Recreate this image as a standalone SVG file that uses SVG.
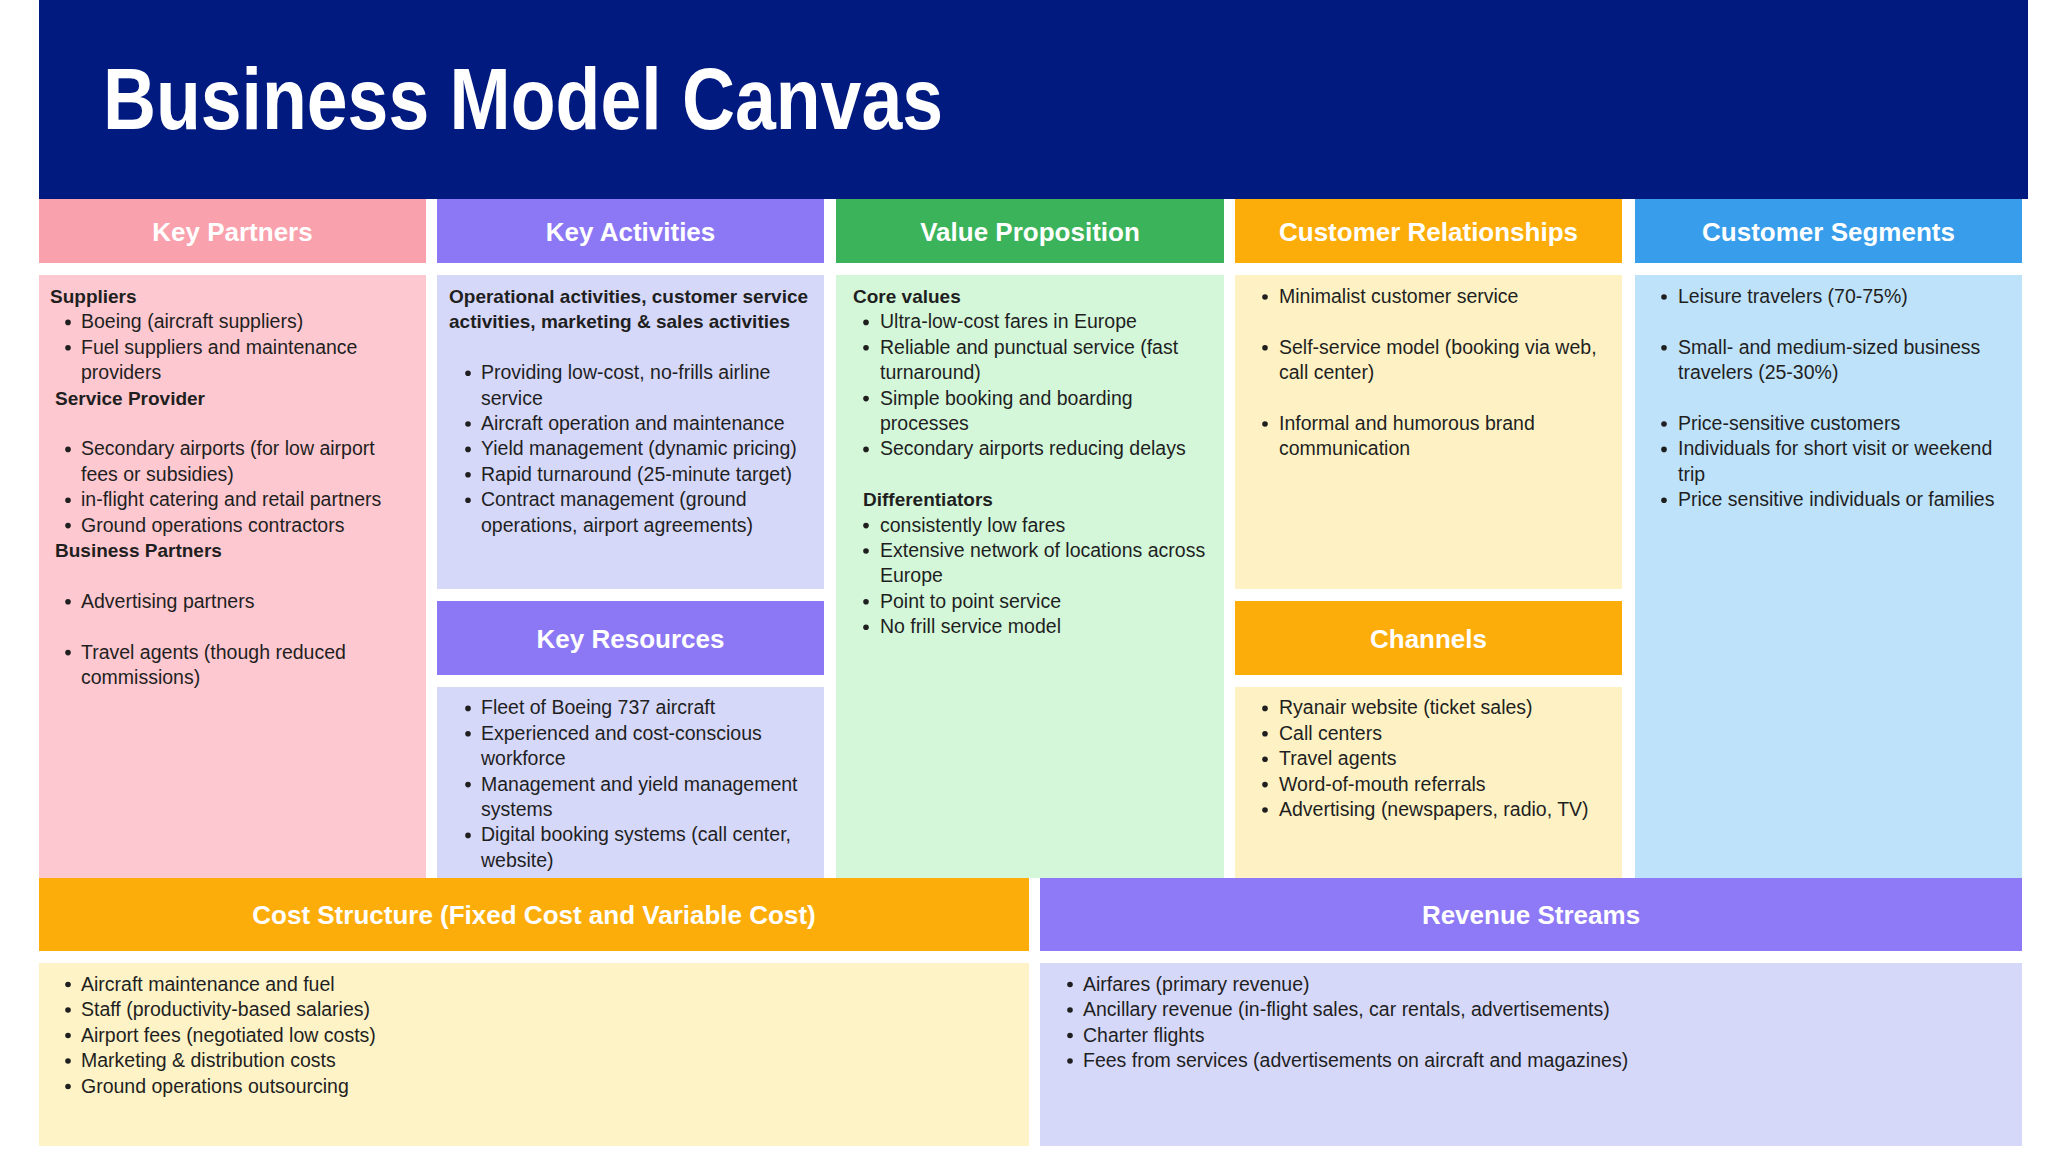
<svg xmlns="http://www.w3.org/2000/svg" width="2048" height="1152" viewBox="0 0 2048 1152">
<style>
.ttl{font-family:"Liberation Sans",Arial,sans-serif;font-weight:700;font-size:88px;fill:#ffffff}
.hd{font-family:"Liberation Sans",Arial,sans-serif;font-weight:700;font-size:26px;fill:#ffffff;text-anchor:middle}
.tx{font-family:"Liberation Sans",Arial,sans-serif;font-size:19.5px;fill:#1f1f1f}
.b{font-weight:700;font-size:19px}
.dot{fill:#1f1f1f}
</style>
<rect x="0" y="0" width="2048" height="1152" fill="#ffffff"/>
<g id="title">
<rect x="39" y="0" width="1989" height="199" fill="#011a80"/>
<text class="ttl" x="103" y="129" textLength="840" lengthAdjust="spacingAndGlyphs">Business Model Canvas</text>
</g>
<g id="connectors"/>
<g id="key-partners">
<rect x="39" y="199" width="387" height="64" fill="#f9a1ac"/>
<text class="hd" x="232.5" y="240.5">Key Partners</text>
<rect x="39" y="275" width="387" height="603" fill="#fec8d0"/>
<text class="tx b" x="50" y="303">Suppliers</text>
<circle class="dot" cx="68" cy="322.4" r="2.8"/><text class="tx" x="81" y="328.4">Boeing (aircraft suppliers)</text>
<circle class="dot" cx="68" cy="347.8" r="2.8"/><text class="tx" x="81" y="353.8">Fuel suppliers and maintenance</text>
<text class="tx" x="81" y="379.2">providers</text>
<text class="tx b" x="55" y="404.6">Service Provider</text>
<circle class="dot" cx="68" cy="449.4" r="2.8"/><text class="tx" x="81" y="455.4">Secondary airports (for low airport</text>
<text class="tx" x="81" y="480.8">fees or subsidies)</text>
<circle class="dot" cx="68" cy="500.2" r="2.8"/><text class="tx" x="81" y="506.2">in-flight catering and retail partners</text>
<circle class="dot" cx="68" cy="525.6" r="2.8"/><text class="tx" x="81" y="531.6">Ground operations contractors</text>
<text class="tx b" x="55" y="557">Business Partners</text>
<circle class="dot" cx="68" cy="601.8" r="2.8"/><text class="tx" x="81" y="607.8">Advertising partners</text>
<circle class="dot" cx="68" cy="652.6" r="2.8"/><text class="tx" x="81" y="658.6">Travel agents (though reduced</text>
<text class="tx" x="81" y="684">commissions)</text>
</g>
<g id="key-activities">
<rect x="437" y="199" width="387" height="64" fill="#8c78f5"/>
<text class="hd" x="630.5" y="240.5">Key Activities</text>
<rect x="437" y="275" width="387" height="314" fill="#d6d8fa"/>
<text class="tx b" x="449" y="303">Operational activities, customer service</text>
<text class="tx b" x="449" y="328.4">activities, marketing &amp; sales activities</text>
<circle class="dot" cx="468" cy="373.2" r="2.8"/><text class="tx" x="481" y="379.2">Providing low-cost, no-frills airline</text>
<text class="tx" x="481" y="404.6">service</text>
<circle class="dot" cx="468" cy="424" r="2.8"/><text class="tx" x="481" y="430">Aircraft operation and maintenance</text>
<circle class="dot" cx="468" cy="449.4" r="2.8"/><text class="tx" x="481" y="455.4">Yield management (dynamic pricing)</text>
<circle class="dot" cx="468" cy="474.8" r="2.8"/><text class="tx" x="481" y="480.8">Rapid turnaround (25-minute target)</text>
<circle class="dot" cx="468" cy="500.2" r="2.8"/><text class="tx" x="481" y="506.2">Contract management (ground</text>
<text class="tx" x="481" y="531.6">operations, airport agreements)</text>
</g>
<g id="key-resources">
<rect x="437" y="601" width="387" height="74" fill="#8c78f5"/>
<text class="hd" x="630.5" y="647.5">Key Resources</text>
<rect x="437" y="687" width="387" height="191" fill="#d6d8fa"/>
<circle class="dot" cx="468" cy="708.4" r="2.8"/><text class="tx" x="481" y="714.4">Fleet of Boeing 737 aircraft</text>
<circle class="dot" cx="468" cy="733.8" r="2.8"/><text class="tx" x="481" y="739.8">Experienced and cost-conscious</text>
<text class="tx" x="481" y="765.2">workforce</text>
<circle class="dot" cx="468" cy="784.6" r="2.8"/><text class="tx" x="481" y="790.6">Management and yield management</text>
<text class="tx" x="481" y="816">systems</text>
<circle class="dot" cx="468" cy="835.4" r="2.8"/><text class="tx" x="481" y="841.4">Digital booking systems (call center,</text>
<text class="tx" x="481" y="866.8">website)</text>
</g>
<g id="value-proposition">
<rect x="836" y="199" width="388" height="64" fill="#3bb35a"/>
<text class="hd" x="1030" y="240.5">Value Proposition</text>
<rect x="836" y="275" width="388" height="603" fill="#d4f7da"/>
<text class="tx b" x="853" y="303">Core values</text>
<circle class="dot" cx="866" cy="322.4" r="2.8"/><text class="tx" x="880" y="328.4">Ultra-low-cost fares in Europe</text>
<circle class="dot" cx="866" cy="347.8" r="2.8"/><text class="tx" x="880" y="353.8">Reliable and punctual service (fast</text>
<text class="tx" x="880" y="379.2">turnaround)</text>
<circle class="dot" cx="866" cy="398.6" r="2.8"/><text class="tx" x="880" y="404.6">Simple booking and boarding</text>
<text class="tx" x="880" y="430">processes</text>
<circle class="dot" cx="866" cy="449.4" r="2.8"/><text class="tx" x="880" y="455.4">Secondary airports reducing delays</text>
<text class="tx b" x="863" y="506.2">Differentiators</text>
<circle class="dot" cx="866" cy="525.6" r="2.8"/><text class="tx" x="880" y="531.6">consistently low fares</text>
<circle class="dot" cx="866" cy="551" r="2.8"/><text class="tx" x="880" y="557">Extensive network of locations across</text>
<text class="tx" x="880" y="582.4">Europe</text>
<circle class="dot" cx="866" cy="601.8" r="2.8"/><text class="tx" x="880" y="607.8">Point to point service</text>
<circle class="dot" cx="866" cy="627.2" r="2.8"/><text class="tx" x="880" y="633.2">No frill service model</text>
</g>
<g id="customer-relationships">
<rect x="1235" y="199" width="387" height="64" fill="#fdad0a"/>
<text class="hd" x="1428.5" y="240.5">Customer Relationships</text>
<rect x="1235" y="275" width="387" height="314" fill="#fef2c4"/>
<circle class="dot" cx="1265" cy="297" r="2.8"/><text class="tx" x="1279" y="303">Minimalist customer service</text>
<circle class="dot" cx="1265" cy="347.8" r="2.8"/><text class="tx" x="1279" y="353.8">Self-service model (booking via web,</text>
<text class="tx" x="1279" y="379.2">call center)</text>
<circle class="dot" cx="1265" cy="424" r="2.8"/><text class="tx" x="1279" y="430">Informal and humorous brand</text>
<text class="tx" x="1279" y="455.4">communication</text>
</g>
<g id="channels">
<rect x="1235" y="601" width="387" height="74" fill="#fdad0a"/>
<text class="hd" x="1428.5" y="647.5">Channels</text>
<rect x="1235" y="687" width="387" height="191" fill="#fef2c4"/>
<circle class="dot" cx="1265" cy="708.4" r="2.8"/><text class="tx" x="1279" y="714.4">Ryanair website (ticket sales)</text>
<circle class="dot" cx="1265" cy="733.8" r="2.8"/><text class="tx" x="1279" y="739.8">Call centers</text>
<circle class="dot" cx="1265" cy="759.2" r="2.8"/><text class="tx" x="1279" y="765.2">Travel agents</text>
<circle class="dot" cx="1265" cy="784.6" r="2.8"/><text class="tx" x="1279" y="790.6">Word-of-mouth referrals</text>
<circle class="dot" cx="1265" cy="810" r="2.8"/><text class="tx" x="1279" y="816">Advertising (newspapers, radio, TV)</text>
</g>
<g id="customer-segments">
<rect x="1635" y="199" width="387" height="64" fill="#389eeb"/>
<text class="hd" x="1828.5" y="240.5">Customer Segments</text>
<rect x="1635" y="275" width="387" height="603" fill="#bee2fa"/>
<circle class="dot" cx="1664" cy="297" r="2.8"/><text class="tx" x="1678" y="303">Leisure travelers (70-75%)</text>
<circle class="dot" cx="1664" cy="347.8" r="2.8"/><text class="tx" x="1678" y="353.8">Small- and medium-sized business</text>
<text class="tx" x="1678" y="379.2">travelers (25-30%)</text>
<circle class="dot" cx="1664" cy="424" r="2.8"/><text class="tx" x="1678" y="430">Price-sensitive customers</text>
<circle class="dot" cx="1664" cy="449.4" r="2.8"/><text class="tx" x="1678" y="455.4">Individuals for short visit or weekend</text>
<text class="tx" x="1678" y="480.8">trip</text>
<circle class="dot" cx="1664" cy="500.2" r="2.8"/><text class="tx" x="1678" y="506.2">Price sensitive individuals or families</text>
</g>
<g id="cost-structure">
<rect x="39" y="878" width="990" height="73" fill="#fdad0a"/>
<text class="hd" x="534" y="924">Cost Structure (Fixed Cost and Variable Cost)</text>
<rect x="39" y="963" width="990" height="183" fill="#fef3c6"/>
<circle class="dot" cx="68" cy="984.5" r="2.8"/><text class="tx" x="81" y="990.5">Aircraft maintenance and fuel</text>
<circle class="dot" cx="68" cy="1010" r="2.8"/><text class="tx" x="81" y="1016">Staff (productivity-based salaries)</text>
<circle class="dot" cx="68" cy="1035.5" r="2.8"/><text class="tx" x="81" y="1041.5">Airport fees (negotiated low costs)</text>
<circle class="dot" cx="68" cy="1061" r="2.8"/><text class="tx" x="81" y="1067">Marketing &amp; distribution costs</text>
<circle class="dot" cx="68" cy="1086.5" r="2.8"/><text class="tx" x="81" y="1092.5">Ground operations outsourcing</text>
</g>
<g id="revenue-streams">
<rect x="1040" y="878" width="982" height="73" fill="#8e79f6"/>
<text class="hd" x="1531" y="924">Revenue Streams</text>
<rect x="1040" y="963" width="982" height="183" fill="#d6d8fa"/>
<circle class="dot" cx="1070" cy="984.5" r="2.8"/><text class="tx" x="1083" y="990.5">Airfares (primary revenue)</text>
<circle class="dot" cx="1070" cy="1010" r="2.8"/><text class="tx" x="1083" y="1016">Ancillary revenue (in-flight sales, car rentals, advertisements)</text>
<circle class="dot" cx="1070" cy="1035.5" r="2.8"/><text class="tx" x="1083" y="1041.5">Charter flights</text>
<circle class="dot" cx="1070" cy="1061" r="2.8"/><text class="tx" x="1083" y="1067">Fees from services (advertisements on aircraft and magazines)</text>
</g>
</svg>
